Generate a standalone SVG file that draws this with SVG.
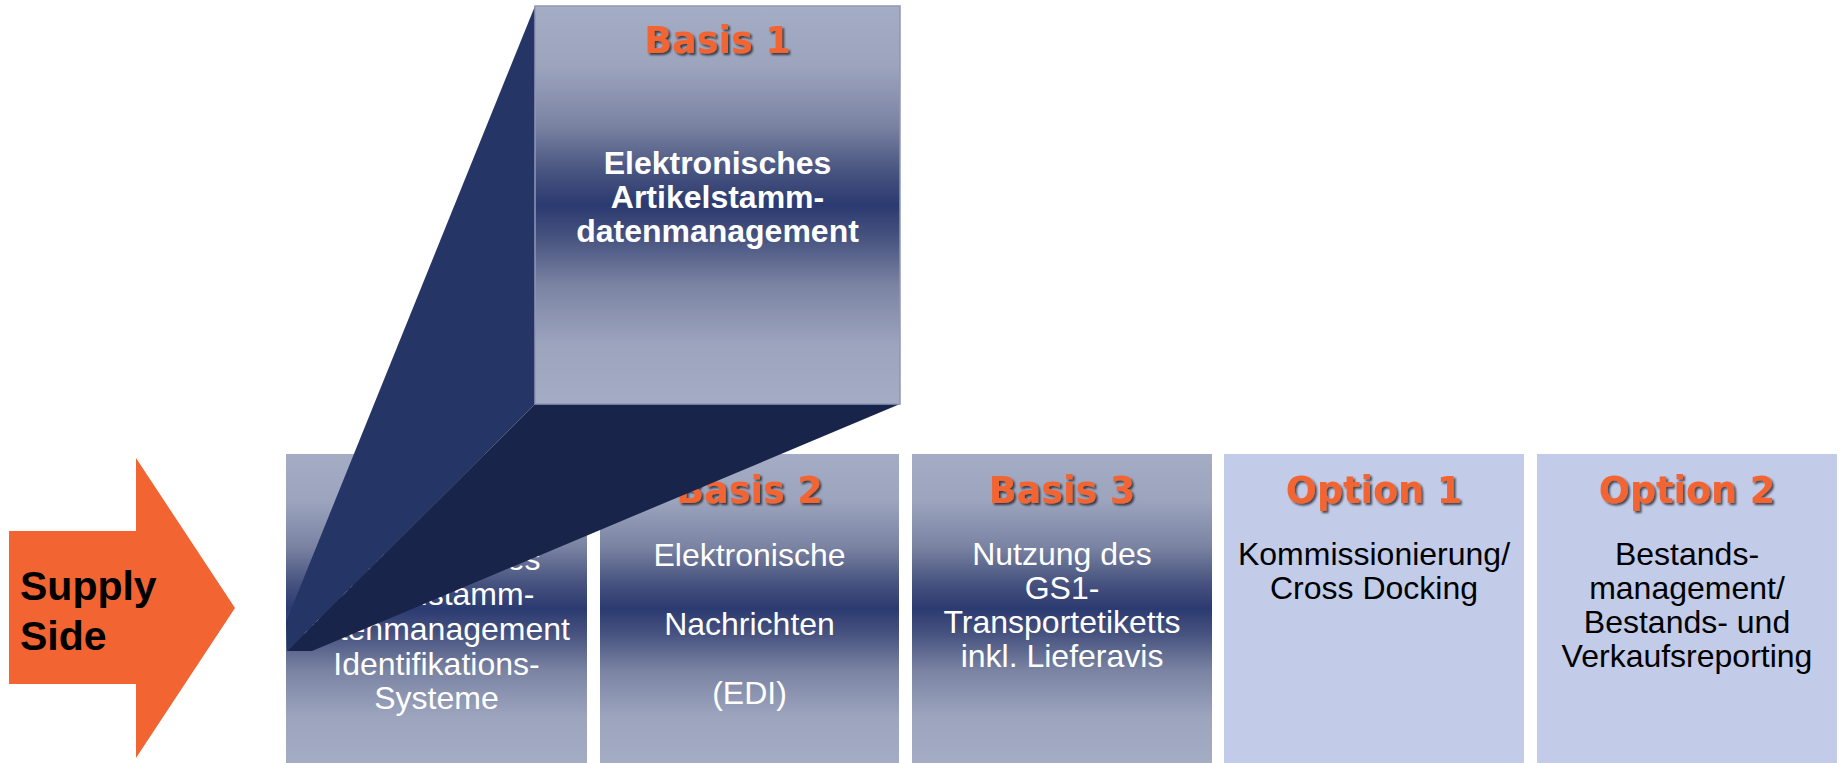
<svg xmlns="http://www.w3.org/2000/svg" width="1843" height="763" viewBox="0 0 1843 763">
  <defs>
    <linearGradient id="gBox" x1="0" y1="0" x2="0" y2="1">
      <stop offset="0" stop-color="#A5ADC5"/>
      <stop offset="0.15" stop-color="#9CA4BE"/>
      <stop offset="0.3" stop-color="#7A83A2"/>
      <stop offset="0.42" stop-color="#46527F"/>
      <stop offset="0.5" stop-color="#2B3A70"/>
      <stop offset="0.58" stop-color="#46527F"/>
      <stop offset="0.7" stop-color="#7A83A2"/>
      <stop offset="0.85" stop-color="#9CA4BE"/>
      <stop offset="1" stop-color="#A5ADC5"/>
    </linearGradient>
    <filter id="shadow" x="-10%" y="-20%" width="130%" height="150%">
      <feDropShadow dx="2" dy="2" stdDeviation="1" flood-color="#000" flood-opacity="0.65"/>
    </filter>
  </defs>
  <style>
    .grad { fill: url(#gBox); }
    .opt { fill: #C2CBE8; }
    .head { font-family: "DejaVu Sans", Verdana, sans-serif; font-weight: bold; font-size: 36.5px; fill: #F26532; text-anchor: middle; filter: url(#shadow); }
    .body { font-family: "Liberation Sans", Arial, sans-serif; font-size: 32px; text-anchor: middle; }
    .w { fill: #FFFFFF; }
    .k { fill: #000000; }
    .bold { font-weight: bold; }
    .supply { font-family: "Liberation Sans", Arial, sans-serif; font-weight: bold; font-size: 41px; fill: #000000; }
  </style>
  <rect width="1843" height="763" fill="#FFFFFF"/>

  <g id="supply-side">
    <polygon points="9,531 136,531 136,458 235,608 136,758 136,684 9,684" fill="#F26532"/>
    <text class="supply" x="20" y="600">Supply</text>
    <text class="supply" x="20" y="650">Side</text>
  </g>

  <g id="box-basis1-base">
    <rect class="grad" x="286" y="454" width="301" height="309"/>
    <text class="body w" x="436.5" y="570">Elektronisches</text>
    <text class="body w" x="436.5" y="605">Artikelstamm-</text>
    <text class="body w" x="436.5" y="640">datenmanagement</text>
    <text class="body w" x="436.5" y="675">Identifikations-</text>
    <text class="body w" x="436.5" y="709">Systeme</text>
  </g>

  <g id="box-basis2">
    <rect class="grad" x="600" y="454" width="299" height="309"/>
    <text class="head" x="749.5" y="503">Basis 2</text>
    <text class="body w" x="749.5" y="566">Elektronische</text>
    <text class="body w" x="749.5" y="635">Nachrichten</text>
    <text class="body w" x="749.5" y="704">(EDI)</text>
  </g>

  <g id="box-basis3">
    <rect class="grad" x="912" y="454" width="300" height="309"/>
    <text class="head" x="1062" y="503">Basis 3</text>
    <text class="body w" x="1062" y="565">Nutzung des</text>
    <text class="body w" x="1062" y="599">GS1-</text>
    <text class="body w" x="1062" y="633">Transportetiketts</text>
    <text class="body w" x="1062" y="667">inkl. Lieferavis</text>
  </g>

  <g id="box-option1">
    <rect class="opt" x="1224" y="454" width="300" height="309"/>
    <text class="head" x="1374" y="503">Option 1</text>
    <text class="body k" x="1374" y="565">Kommissionierung/</text>
    <text class="body k" x="1374" y="599">Cross Docking</text>
  </g>

  <g id="box-option2">
    <rect class="opt" x="1537" y="454" width="300" height="309"/>
    <text class="head" x="1687" y="503">Option 2</text>
    <text class="body k" x="1687" y="565">Bestands-</text>
    <text class="body k" x="1687" y="599">management/</text>
    <text class="body k" x="1687" y="633">Bestands- und</text>
    <text class="body k" x="1687" y="667">Verkaufsreporting</text>
  </g>

  <g id="extrusion">
    <polygon points="535,6 535,404 287,651 286,622" fill="#253566"/>
    <polygon points="535,404 900,404 312,651 287,651" fill="#18244A"/>
  </g>

  <g id="box-basis1">
    <rect class="grad" x="535" y="6" width="365" height="398" stroke="#8F98B5" stroke-width="1.5"/>
    <text class="head" x="717.5" y="53">Basis 1</text>
    <text class="body w bold" x="717.5" y="174">Elektronisches</text>
    <text class="body w bold" x="717.5" y="208">Artikelstamm-</text>
    <text class="body w bold" x="717.5" y="242">datenmanagement</text>
  </g>
</svg>
